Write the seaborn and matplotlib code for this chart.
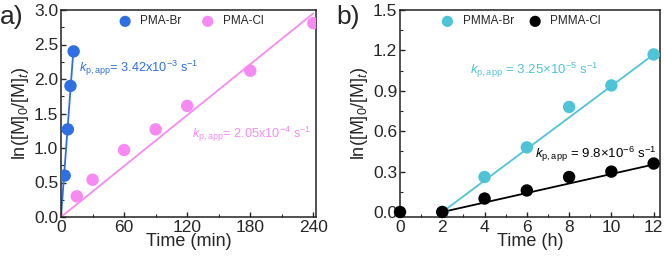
import numpy as np
import pandas as pd
import matplotlib
matplotlib.use("Agg")
import matplotlib.pyplot as plt
import seaborn as sns
from matplotlib.ticker import MultipleLocator

sns.set_theme(style="ticks")
plt.rcParams['font.family'] = ['Liberation Sans', 'DejaVu Sans']
plt.rcParams['mathtext.fontset'] = 'custom'
plt.rcParams['mathtext.rm'] = 'Liberation Sans'
plt.rcParams['mathtext.it'] = 'Liberation Sans:italic'
plt.rcParams['mathtext.bf'] = 'Liberation Sans:bold'

# ---- data panel a ----
pma_br_t = [3.5, 6.5, 9, 12]
pma_br_y = [0.60, 1.27, 1.90, 2.40]
pma_cl_t = [15, 30, 60, 90, 120, 180, 240]
pma_cl_y = [0.30, 0.54, 0.97, 1.27, 1.61, 2.12, 2.81]
k_pma_br = 3.42e-3   # s^-1
k_pma_cl = 2.05e-4   # s^-1
fit_br_t = [0, 12]
fit_cl_t = [0, 240]

# ---- data panel b ----
pmma_br_t = [2, 4, 6, 8, 10, 12]
pmma_br_y = [0.0, 0.26, 0.48, 0.78, 0.94, 1.17]
pmma_cl_t = [0, 2, 4, 6, 8, 10, 12]
pmma_cl_y = [0.0, 0.0, 0.10, 0.16, 0.26, 0.30, 0.36]
k_pmma_br = 3.25e-5
k_pmma_cl = 9.8e-6
fit_b_t = [2, 12]

c_blue = "#2f6fe4"
c_pink = "#f78af2"
c_cyan = "#4fc4d6"
c_black = "#000000"

fig = plt.figure(figsize=(6.64, 2.61), dpi=100)
axa = fig.add_axes([61/664, 1-217/261, (316-61)/664, 207/261])
axb = fig.add_axes([400/664, 1-217/261, (660-400)/664, 207/261])

ms = 80

# panel a
sns.lineplot(x=fit_br_t, y=[k_pma_br*60*t for t in fit_br_t], ax=axa, color=c_blue, lw=1.3)
sns.lineplot(x=fit_cl_t, y=[k_pma_cl*60*t for t in fit_cl_t], ax=axa, color=c_pink, lw=1.3)
sns.scatterplot(x=pma_br_t, y=pma_br_y, ax=axa, color=c_blue, s=ms, edgecolor='none', label="PMA-Br", zorder=3)
sns.scatterplot(x=pma_cl_t, y=pma_cl_y, ax=axa, color=c_pink, s=ms, edgecolor='none', label="PMA-Cl", zorder=3)
axa.set_xlim(0, 242.5)
axa.set_ylim(0, 3.0)
axa.xaxis.set_major_locator(MultipleLocator(60))
axa.xaxis.set_minor_locator(MultipleLocator(30))
axa.yaxis.set_major_locator(MultipleLocator(0.5))
axa.yaxis.set_minor_locator(MultipleLocator(0.25))
axa.set_xlabel("Time (min)", fontsize=13, labelpad=-1)
axa.set_ylabel(r"ln([M]$_0$/[M]$_t$)", fontsize=13, labelpad=2)
axa.text(17, 2.16, r"$k_{\mathrm{p,app}}$= 3.42x10$^{-3}$ s$^{-1}$", color=c_blue, fontsize=9.2, va='center')
axa.text(125, 1.19, r"$k_{\mathrm{p,app}}$= 2.05x10$^{-4}$ s$^{-1}$", color=c_pink, fontsize=9.2, va='center')
axa.legend(loc='upper center', bbox_to_anchor=(0.50, 1.025), ncol=2, frameon=False,
           fontsize=8.5, handletextpad=0.3, columnspacing=1.2, markerscale=0.9)

# panel b
sns.lineplot(x=fit_b_t, y=[k_pmma_br*3600*(t-fit_b_t[0]) for t in fit_b_t], ax=axb, color=c_cyan, lw=1.3)
sns.lineplot(x=fit_b_t, y=[k_pmma_cl*3600*(t-fit_b_t[0]) for t in fit_b_t], ax=axb, color=c_black, lw=1.3)
sns.scatterplot(x=pmma_br_t, y=pmma_br_y, ax=axb, color=c_cyan, s=ms, edgecolor='none', label="PMMA-Br", zorder=3)
sns.scatterplot(x=pmma_cl_t, y=pmma_cl_y, ax=axb, color=c_black, s=ms, edgecolor='none', label="PMMA-Cl", zorder=3, clip_on=False)
axb.set_xlim(0, 12.3)
axb.set_ylim(-0.037, 1.5)
axb.xaxis.set_major_locator(MultipleLocator(2))
axb.xaxis.set_minor_locator(MultipleLocator(1))
axb.yaxis.set_major_locator(MultipleLocator(0.3))
axb.yaxis.set_minor_locator(MultipleLocator(0.15))
axb.set_xlabel("Time (h)", fontsize=13, labelpad=-1)
axb.set_ylabel(r"ln([M]$_0$/[M]$_t$)", fontsize=13, labelpad=2)
axb.text(3.3, 1.054, r"$k_{\mathrm{p,app}}$ = 3.25$\times$10$^{-5}$ s$^{-1}$", color=c_cyan, fontsize=9.5, va='center')
axb.text(6.4, 0.43, r"$k_{\mathrm{p,app}}$ = 9.8$\times$10$^{-6}$ s$^{-1}$", color=c_black, fontsize=9.5, va='center')
axb.legend(loc='upper center', bbox_to_anchor=(0.455, 1.025), ncol=2, frameon=False,
           fontsize=8.5, handletextpad=0.3, columnspacing=0.8, markerscale=0.9)

for ax in (axa, axb):
    for sp in ax.spines.values():
        sp.set_linewidth(1.1)
        sp.set_color("#222222")
    ax.tick_params(which='both', direction='in', top=False, right=False, labelsize=12.5, pad=2)
    ax.tick_params(which='major', length=3.5, width=1)
    ax.tick_params(which='minor', length=2, width=0.8)

fig.text(0/664, 1-17/261, "a)", fontsize=19, va='center', ha='left')
fig.text(336/664, 1-17/261, "b)", fontsize=19, va='center', ha='left')

fig.savefig("out.png", dpi=100)
